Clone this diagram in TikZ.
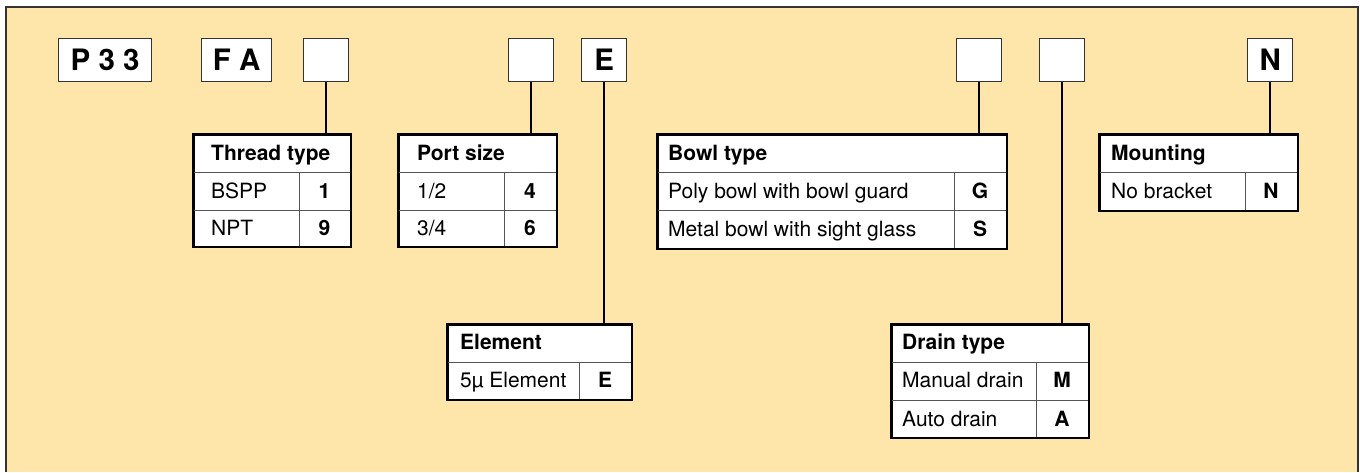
\documentclass[tikz,border=0pt]{standalone}
\usepackage{fontspec}
\setmainfont{TeX Gyre Heros}
\definecolor{bg}{HTML}{FEE5A9}
\definecolor{frame}{HTML}{333333}
\definecolor{inner}{HTML}{555555}
\tikzset{
  codebox/.style={draw=frame, fill=white, line width=1.3pt, minimum height=43pt, inner sep=0pt, anchor=north west, font=\fontsize{29.5}{30}\selectfont\bfseries},
  tbl/.style={draw=black, fill=white, line width=1.6pt, anchor=north west, inner sep=0pt},
  inl/.style={draw=inner, line width=1pt},
  conn/.style={draw=black, line width=2.4pt},
  hdr/.style={anchor=base west, inner sep=0pt, font=\fontsize{21}{24}\selectfont\bfseries},
  txt/.style={anchor=base west, inner sep=0pt, font=\fontsize{21}{24}\selectfont},
  val/.style={anchor=base, inner sep=0pt, font=\fontsize{21}{24}\selectfont\bfseries}
}
\begin{document}
\begin{tikzpicture}[x=1pt,y=-1pt]
\useasboundingbox (0,0) rectangle (1360,472);
\fill[bg] (6,7) rectangle (1358,472);
\draw[frame, line width=1.5pt] (6,472) -- (6,7) -- (1358,7) -- (1358,472);

% code boxes
\node[codebox, minimum width=93pt] (p33) at (58,38) {P 3 3};
\node[codebox, minimum width=70pt] (fa) at (201,38) {F A};
\node[codebox, minimum width=45pt] (bthread) at (303,38) {};
\node[codebox, minimum width=45pt] (bport) at (508,38) {};
\node[codebox, minimum width=45pt] (belem) at (581,38) {E};
\node[codebox, minimum width=45pt] (bbowl) at (956,38) {};
\node[codebox, minimum width=45pt] (bdrain) at (1039,38) {};
\node[codebox, minimum width=45pt] (bmount) at (1247,38) {N};

% tables
\node[tbl, minimum width=157pt, minimum height=112pt] (thread) at (193,134) {};
\node[tbl, minimum width=158pt, minimum height=112pt] (port) at (398,134) {};
\node[tbl, minimum width=349pt, minimum height=114pt] (bowl) at (657,134) {};
\node[tbl, minimum width=198pt, minimum height=76pt] (mount) at (1099,134) {};
\node[tbl, minimum width=184pt, minimum height=75pt] (elem) at (447,324) {};
\node[tbl, minimum width=197pt, minimum height=113pt] (drain) at (891,324) {};

% inner lines
\draw[inl] (193,172) -- (350,172) (193,210) -- (350,210) (299,172) -- (299,246);
\draw[inl] (398,172) -- (556,172) (398,210) -- (556,210) (504,172) -- (504,246);
\draw[inl] (657,172) -- (1006,172) (657,210) -- (1006,210) (954,172) -- (954,248);
\draw[inl] (1099,172) -- (1297,172) (1245,172) -- (1245,210);
\draw[inl] (447,362) -- (631,362) (579,362) -- (579,399);
\draw[inl] (891,362) -- (1088,362) (891,400) -- (1088,400) (1036,362) -- (1036,437);

% redraw outer borders on top
\foreach \t in {thread,port,bowl,mount,elem,drain}
  \draw[black, line width=1.6pt] (\t.north west) rectangle (\t.south east);

% texts
\node[hdr] (threadh) at (211,160) {Thread type};
\node[txt] (thread1) at (211,198) {BSPP};
\node[txt] (thread2) at (211,235) {NPT};
\node[val] (thread1v) at (324.5,198) {1};
\node[val] (thread2v) at (324.5,235) {9};

\node[hdr] (porth) at (417,160) {Port size};
\node[txt] (port1) at (417,198) {1/2};
\node[txt] (port2) at (417,235) {3/4};
\node[val] (port1v) at (530,198) {4};
\node[val] (port2v) at (530,235) {6};

\node[hdr] (bowlh) at (668,160) {Bowl type};
\node[txt] (bowl1) at (668,198) {Poly bowl with bowl guard};
\node[txt] (bowl2) at (668,236) {Metal bowl with sight glass};
\node[val] (bowl1v) at (980,198) {G};
\node[val] (bowl2v) at (980,236) {S};

\node[hdr] (mounth) at (1111,160) {Mounting};
\node[txt] (mount1) at (1111,198) {No bracket};
\node[val] (mount1v) at (1271,198) {N};

\node[hdr] (elemh) at (460,349) {Element};
\node[txt] (elem1) at (460,387) {5µ Element};
\node[val] (elem1v) at (605,387) {E};

\node[hdr] (drainh) at (902,349) {Drain type};
\node[txt] (drain1) at (902,387) {Manual drain};
\node[txt] (drain2) at (902,426) {Auto drain};
\node[val] (drain1v) at (1062,387) {M};
\node[val] (drain2v) at (1062,426) {A};

% connectors
\draw[conn] (bthread.south) -- (bthread.south |- thread.north);
\draw[conn] (bport.south) -- (bport.south |- port.north);
\draw[conn] (belem.south) -- (belem.south |- elem.north);
\draw[conn] (bbowl.south) -- (bbowl.south |- bowl.north);
\draw[conn] (bdrain.south) -- (bdrain.south |- drain.north);
\draw[conn] (bmount.south) -- (bmount.south |- mount.north);
\end{tikzpicture}
\end{document}
